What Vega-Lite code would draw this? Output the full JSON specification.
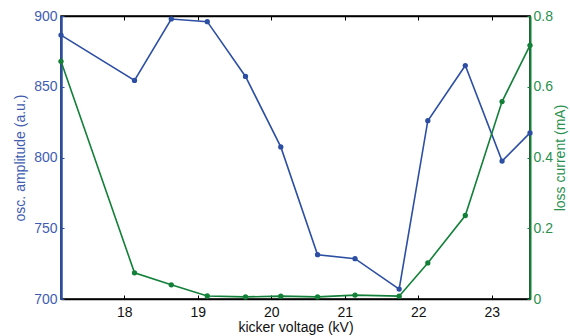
{
  "$schema": "https://vega.github.io/schema/vega-lite/v6.json",
  "width": 469,
  "height": 283,
  "autosize": "none",
  "padding": {"left": 61, "top": 16, "right": 40, "bottom": 37},
  "background": "white",
  "config": {
    "font": "Liberation Sans",
    "view": {"stroke": "black", "strokeWidth": 1.5},
    "axis": {"grid": false, "labelFontSize": 14, "titleFontSize": 14, "titleFontWeight": "normal", "labelFont": "Liberation Sans", "titleFont": "Liberation Sans"}
  },
  "data": {"values": [
    {"v": 17.14, "amp": 886.5, "loss": 0.672},
    {"v": 18.14, "amp": 854.5, "loss": 0.074},
    {"v": 18.64, "amp": 897.9, "loss": 0.040},
    {"v": 19.13, "amp": 896, "loss": 0.0085},
    {"v": 19.65, "amp": 857.3, "loss": 0.006},
    {"v": 20.13, "amp": 807.5, "loss": 0.008},
    {"v": 20.63, "amp": 731.3, "loss": 0.006},
    {"v": 21.14, "amp": 728.5, "loss": 0.011},
    {"v": 21.74, "amp": 707, "loss": 0.008},
    {"v": 22.13, "amp": 826, "loss": 0.102},
    {"v": 22.64, "amp": 865, "loss": 0.236},
    {"v": 23.14, "amp": 797.5, "loss": 0.558},
    {"v": 23.52, "amp": 817.4, "loss": 0.717}
  ]},
  "layer": [
    {
      "mark": {"type": "line", "color": "#2c4ea3", "strokeWidth": 1.6, "point": {"filled": true, "size": 28, "color": "#2c4ea3"}},
      "encoding": {
        "x": {"field": "v", "type": "quantitative", "scale": {"domain": [17.14, 23.52], "nice": false, "zero": false},
              "axis": {"orient": "bottom", "values": [18, 19, 20, 21, 22, 23], "title": "kicker voltage (kV)", "domainColor": "black", "domainWidth": 1.5, "tickColor": "black", "tickSize": -4, "labelPadding": 10, "labelColor": "#111", "titleColor": "#111", "titlePadding": 1}},
        "y": {"field": "amp", "type": "quantitative", "scale": {"domain": [700, 900], "nice": false, "zero": false},
              "axis": {"orient": "left", "values": [700, 750, 800, 850, 900], "title": "osc. amplitude (a.u.)", "domainColor": "#2c4ea3", "domainWidth": 2.5, "tickColor": "#2c4ea3", "tickSize": -3, "labelPadding": 7, "labelColor": "#3f5cb0", "titleColor": "#3f5cb0", "titlePadding": 6}}
      }
    },
    {
      "mark": {"type": "line", "color": "#128038", "strokeWidth": 1.6, "point": {"filled": true, "size": 28, "color": "#128038"}},
      "encoding": {
        "x": {"field": "v", "type": "quantitative", "scale": {"domain": [17.14, 23.52], "nice": false, "zero": false},
              "axis": {"orient": "top", "values": [18, 19, 20, 21, 22, 23], "title": null, "labels": false, "domainColor": "black", "domainWidth": 1.5, "tickColor": "black", "tickSize": -4}},
        "y": {"field": "loss", "type": "quantitative", "scale": {"domain": [0, 0.8], "nice": false},
              "axis": {"orient": "right", "values": [0, 0.2, 0.4, 0.6, 0.8], "format": "~g", "title": "loss current (mA)", "titleAngle": 270, "titleBaseline": "top", "domainColor": "#128038", "domainWidth": 2, "tickColor": "#128038", "tickSize": -3, "labelPadding": 6, "labelColor": "#2a9050", "titleColor": "#2a9050", "titlePadding": 1}}
      }
    }
  ],
  "resolve": {"scale": {"y": "independent"}, "axis": {"x": "independent"}}
}
